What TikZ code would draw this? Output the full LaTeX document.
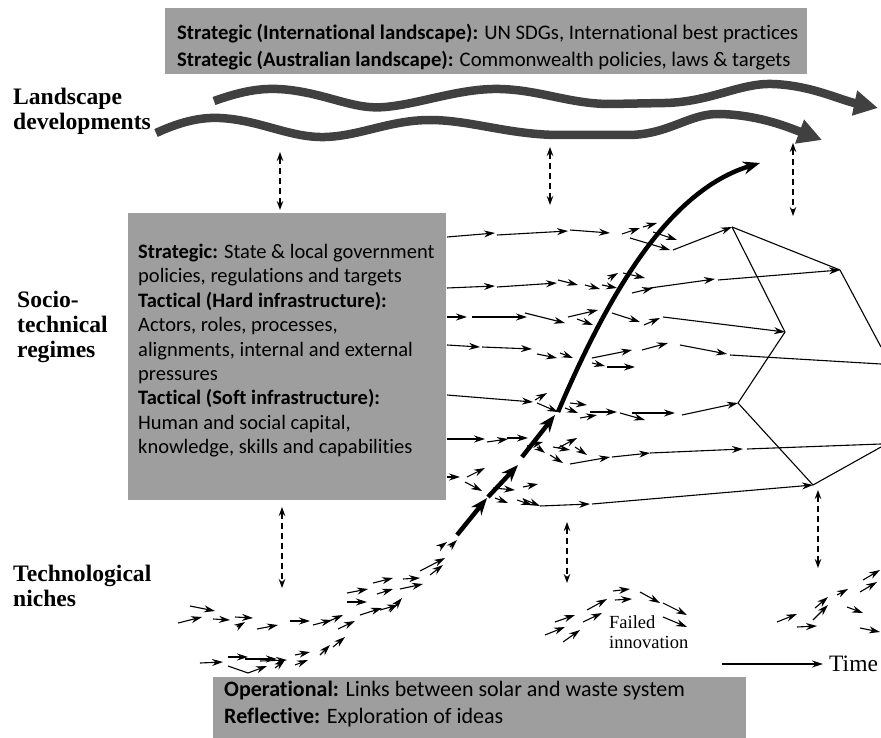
\documentclass[tikz,border=0pt]{standalone}
\usepackage{fontspec}
\setmainfont{Liberation Serif}
\newfontfamily\calibri[Ligatures={NoCommon}]{Carlito}
\usetikzlibrary{arrows.meta, positioning}

\begin{document}
\begin{tikzpicture}[
    x=1pt, y=-1pt,
    infobox/.style={rectangle, fill=black!38, inner sep=0pt, anchor=north west},
    infotext/.style={inner sep=0pt, anchor=north west, align=left, font=\calibri\fontsize{20.7}{27}\selectfont},
    level/.style={inner sep=0pt, anchor=west, align=left, font=\bfseries\fontsize{23.6}{25}\selectfont},
    flow/.style={line width=1.1pt, -{Stealth[length=11pt,width=7pt]}},
    tie/.style={line width=1.1pt},
    couple/.style={line width=1.1pt, dash pattern=on 6pt off 4pt, {Stealth[length=9pt,width=6.5pt]}-{Stealth[length=9pt,width=6.5pt]}},
    band/.style={line width=8.5pt, draw=black!75, -{Triangle[length=24pt,width=24pt]}},
    jump/.style={line width=4.5pt, -{Stealth[length=17pt,width=13pt]}}
]
\useasboundingbox (0,0) rectangle (881,738);

% Boxes
\node[infobox, minimum width=642pt, minimum height=66pt] (intl) at (165,8) {};
\node[infotext] (intltext) at (177,24) {\textbf{Strategic (International landscape):} UN SDGs, International best practices\\
  \textbf{Strategic (Australian landscape):} Commonwealth policies, laws \& targets};
\node[infobox, minimum width=318pt, minimum height=287pt] (regbox) at (128,213) {};
\node[infotext, font=\calibri\fontsize{20.5}{24.4}\selectfont] (regtext) at (138,244) {\textbf{Strategic:} State \& local government\\
  policies, regulations and targets\\
  \textbf{Tactical (Hard infrastructure):}\\
  Actors, roles, processes,\\
  alignments, internal and external\\
  pressures\\
  \textbf{Tactical (Soft infrastructure):}\\
  Human and social capital,\\
  knowledge, skills and capabilities};
\node[infobox, minimum width=533pt, minimum height=61pt] (opbox) at (213,677) {};
\node[infotext, font=\calibri\fontsize{22}{27}\selectfont] (optext) at (224,681) {\textbf{Operational:} Links between solar and waste system\\
  \textbf{Reflective:} Exploration of ideas};

% Level labels
\node[level] (lscape) at (13,111) {Landscape\\developments};
\node[level] (regime) at (17,327) {Socio-\\technical\\regimes};
\node[level] (niche) at (13,586) {Technological\\niches};
\node[inner sep=0pt, anchor=west, align=left, font=\fontsize{18.5}{20}\selectfont] (failed) at (609,632) {Failed\\innovation};
\node[inner sep=0pt, anchor=west, font=\fontsize{23.5}{25}\selectfont] (time) at (829,664) {Time};
\coordinate (t0) at (722,664);
\draw[flow] (t0) -- ([xshift=-6pt]time.west);

% Landscape bands
\draw[band] (214,101) .. controls (245,90) and (265,87) .. (290,90)
  .. controls (330,95) and (355,110) .. (385,107)
  .. controls (420,104) and (460,88) .. (500,89)
  .. controls (540,90) and (570,104) .. (610,104) -- (665,103)
  .. controls (710,102) and (740,83) .. (772,84)
  .. controls (810,85) and (840,100) .. (878,108);
\draw[band] (156,133) .. controls (180,122) and (200,117) .. (220,118)
  .. controls (260,120) and (290,138) .. (325,137)
  .. controls (360,136) and (390,120) .. (430,120)
  .. controls (470,120) and (510,135) .. (560,135) -- (630,135)
  .. controls (670,134) and (690,113) .. (720,114)
  .. controls (760,115) and (790,128) .. (822,140);

% Links between levels
\draw[couple] (280,152) -- (280,210);
\draw[couple] (550,147) -- (550,205);
\draw[couple] (793,143) -- (793,216);
\draw[couple] (282,507) -- (282,588);
\draw[couple] (567,522) -- (567,583);
\draw[couple] (818,490) -- (818,568);

% Regime network
\coordinate (na) at (732,227);
\coordinate (nb) at (840,270);
\coordinate (nc) at (785,332);
\coordinate (nd) at (738,403);
\coordinate (ne) at (813,485);
\draw[tie] (na) -- (nb) -- (881,347);
\draw[tie] (na) -- (nc) -- (nd) -- (ne) -- (881,447);
\draw[tie] (730,355) -- (881,364);
\draw[tie] (747,449) -- (881,444);
\draw[flow] (673,250) -- (na);
\draw[flow] (718,280) -- (nb);
\draw[flow] (663,317) -- (nc);
\draw[flow] (682,415) -- (nd);
\draw[flow] (592,504) -- (ne);

% Regime trajectories
\foreach \xa/\ya/\xb/\yb in {447/237/495/233, 497/235/568/231, 570/230/610/233, 622/234/640/228, 643/227/657/223,
    653/232/677/240, 630/238/670/250,
    447/288/495/286, 497/287/557/283, 558/280/578/285, 585/285/600/289, 602/285/617/288, 608/279/618/273,
    623/273/645/278, 632/293/653/288, 650/288/715/279,
    447/317/467/317, 472/317/527/317, 525/313/565/323, 568/317/598/310, 577/319/593/325, 612/313/640/322, 644/325/660/318,
    447/345/480/347, 482/347/532/349, 537/354/557/358, 560/353/573/358, 592/358/632/350, 592/363/605/366,
    607/367/635/367, 642/350/668/343, 680/345/727/354,
    447/395/533/402, 535/400/547/393, 537/403/558/412, 570/403/587/405, 565/408/578/413, 580/418/597/415,
    590/412/617/412, 620/413/645/420, 632/413/675/413,
    447/439/485/439, 487/442/508/439, 507/438/528/438, 527/446/543/442, 537/447/545/453, 550/455/563/463,
    553/447/570/450, 558/448/577/438, 575/447/587/455, 570/464/610/457, 612/457/650/453, 650/453/743/449,
    447/477/460/477, 467/477/485/468, 465/482/482/491, 493/488/515/490, 523/487/538/484, 495/498/508/503,
    517/500/532/505, 523/499/540/506, 540/506/590/504}
  \draw[flow] (\xa,\ya) -- (\xb,\yb);

% Niche trajectories
\foreach \xa/\ya/\xb/\yb in {178/623/202/617, 190/606/215/611, 213/619/230/620, 235/617/253/618, 237/627/245/622,
    257/629/278/625, 290/621/310/621, 313/625/332/620, 327/622/343/615, 338/629/355/621, 347/593/368/589,
    347/602/367/602, 360/615/382/608, 373/583/393/578, 377/594/393/589, 380/610/398/605, 390/612/402/598,
    403/579/420/578, 400/589/423/584, 420/571/445/558, 430/575/443/565, 440/547/447/542, 450/547/457/540,
    200/663/223/662, 228/657/248/657, 245/659/277/659, 260/661/287/660, 275/668/285/660, 295/655/310/652,
    295/665/308/660, 320/655/330/645, 333/647/345/637,
    545/635/565/627, 555/622/575/615, 563/642/580/630, 583/622/602/613, 587/610/607/599, 613/591/630/589,
    615/600/632/599, 640/592/660/603, 663/603/687/615, 663/617/687/627,
    777/622/797/614, 797/627/817/626, 813/620/828/605, 815/608/828/597, 837/595/848/589, 860/592/877/582,
    863/580/880/570, 847/607/863/613, 860/628/880/632}
  \draw[flow] (\xa,\ya) -- (\xb,\yb);
\draw[flow] (228,666) -- (248,673) -- (267,666);

% Breakthrough
\draw[jump] (457,535) -- (487,498);
\draw[jump] (488,497) -- (518,465);
\draw[jump] (522,457) -- (555,415);
\draw[jump] (558,412) .. controls (610,290) and (670,190) .. (760,163);

\end{tikzpicture}
\end{document}
